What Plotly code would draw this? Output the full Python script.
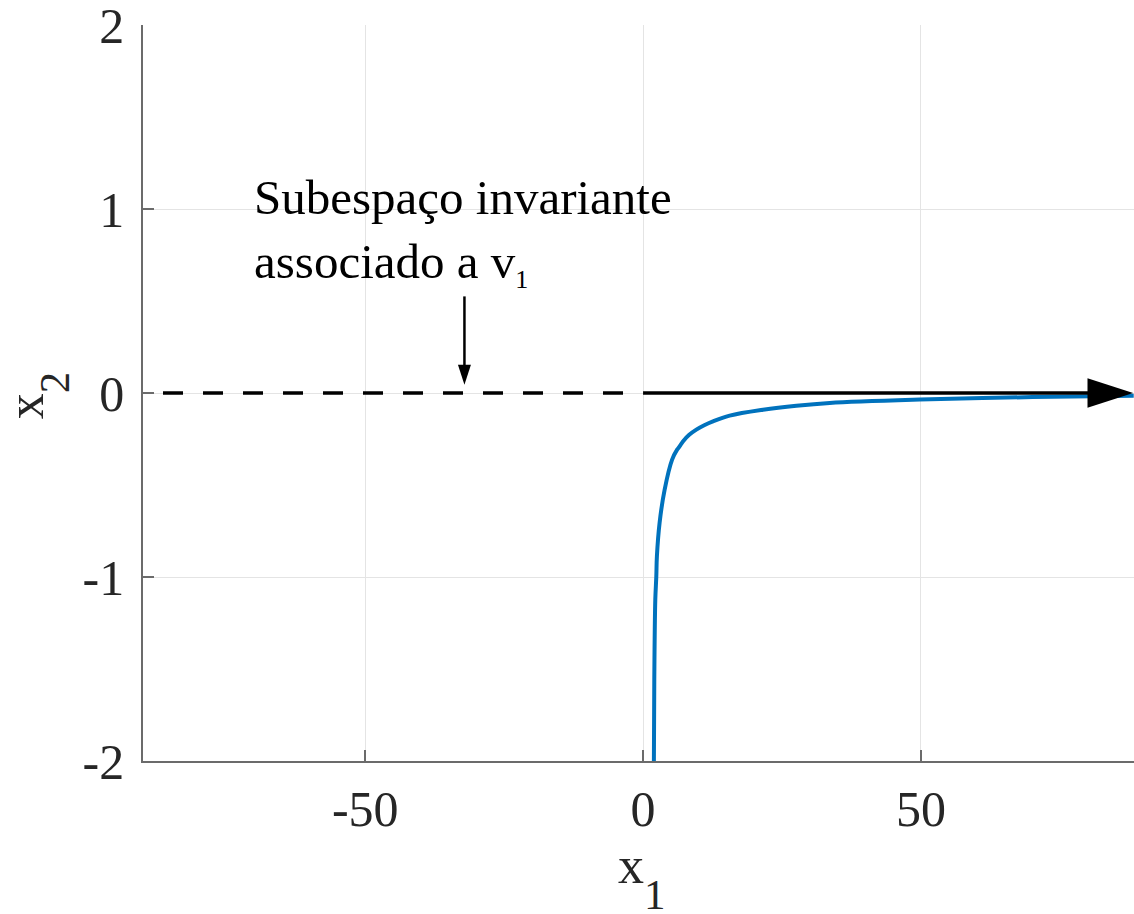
import plotly.graph_objects as go

# ---- data ----
# trajectory (blue curve)
curve_x1 = [1.945, 2.017, 2.197, 2.378, 2.486, 2.972, 3.872, 5.223, 6.124,
            6.574, 7.169, 8.30, 9.582, 11.0, 12.57, 15.58, 21.58, 27.59,
            33.59, 49.8, 70.1, 88.3]
curve_x2 = [-2.0, -1.558, -1.123, -0.998, -0.888, -0.705, -0.526, -0.362,
            -0.308, -0.290, -0.263, -0.227, -0.199, -0.175, -0.154, -0.123,
            -0.091, -0.069, -0.054, -0.036, -0.022, -0.015]

# invariant subspace associated with v1 (x2 = 0)
dashed_x1 = [-90, 0]
dashed_x2 = [0, 0]
solid_x1 = [0, 88.2]
solid_x2 = [0, 0]

# pointer arrow under the text
pointer_x1 = [-32.15, -32.15]
pointer_x2 = [0.525, 0.045]

x_ticks = [-50, 0, 50]
y_ticks = [-2, -1, 0, 1, 2]
x_range = [-90, 88.35]
y_range = [-2, 2]

label_text = ("Subespaço invariante<br>associado a v"
              "<sub><span style='font-size:26px;color:#000000'>1</span></sub>")

SERIF = "Liberation Serif, Times New Roman, serif"
AXIS_COLOR = "#6b6b6b"
TEXT_COLOR = "#262626"

fig = go.Figure()

fig.add_trace(go.Scatter(
    x=curve_x1, y=curve_x2, mode="lines",
    line=dict(color="#0072BD", width=4, shape="spline", smoothing=1.0),
    hoverinfo="skip", showlegend=False))

fig.add_trace(go.Scatter(
    x=dashed_x1, y=dashed_x2, mode="lines",
    line=dict(color="#000000", width=3.5, dash="0px,20px,20px,0px"),
    hoverinfo="skip", showlegend=False))

fig.add_trace(go.Scatter(
    x=solid_x1, y=solid_x2, mode="lines+markers",
    line=dict(color="#000000", width=3.5),
    marker=dict(symbol="arrow", size=[0, 48], angleref="previous",
                color="#000000", opacity=1, line=dict(width=0)),
    opacity=1, hoverinfo="skip", showlegend=False, cliponaxis=False))

fig.add_trace(go.Scatter(
    x=pointer_x1, y=pointer_x2, mode="lines+markers",
    line=dict(color="#000000", width=2.5),
    marker=dict(symbol="arrow", size=[0, 21], angleref="previous",
                color="#000000", opacity=1, line=dict(width=0)),
    opacity=1, hoverinfo="skip", showlegend=False))

fig.add_annotation(
    x=-70.3, y=1.225, xref="x", yref="y", xanchor="left", yanchor="top",
    text=label_text, showarrow=False, align="left",
    font=dict(family=SERIF, size=49, color="#000000"))

# axis titles (MATLAB-like subscript placement)
fig.add_annotation(
    x=0.5039, y=-0.1583, xref="paper", yref="paper",
    xanchor="center", yanchor="middle", showarrow=False,
    text="<span style='font-size:52px'>x</span><sub><span style='font-size:43px'>1</span></sub>",
    font=dict(family=SERIF, size=124, color=TEXT_COLOR))

fig.add_annotation(
    x=-0.1068, y=(761 - 395) / 736, xref="paper", yref="paper",
    xanchor="center", yanchor="middle", showarrow=False, textangle=-90,
    text="<span style='font-size:52px'>x</span><sub><span style='font-size:43px'>2</span></sub>",
    font=dict(family=SERIF, size=124, color=TEXT_COLOR))

axis_common = dict(
    showline=True, linecolor=AXIS_COLOR, linewidth=1.5,
    ticks="inside", ticklen=11, tickwidth=1.5, tickcolor=AXIS_COLOR,
    showgrid=True, gridcolor="#e4e4e4", gridwidth=1,
    zeroline=False, mirror=False, ticklabeloverflow="allow",
    tickfont=dict(family=SERIF, size=50, color=TEXT_COLOR),
)

fig.update_xaxes(range=x_range, tickvals=x_ticks,
                 ticktext=[str(v) for v in x_ticks],
                 ticklabelstandoff=3, **axis_common)
fig.update_yaxes(range=y_range, tickvals=y_ticks,
                 ticktext=[str(v) for v in y_ticks],
                 ticklabelstandoff=7, **axis_common)

fig.update_layout(
    width=1134, height=914,
    margin=dict(l=143, r=0, t=25, b=153, autoexpand=False),
    plot_bgcolor="white", paper_bgcolor="white",
    showlegend=False,
)

fig.write_html("out.html")
